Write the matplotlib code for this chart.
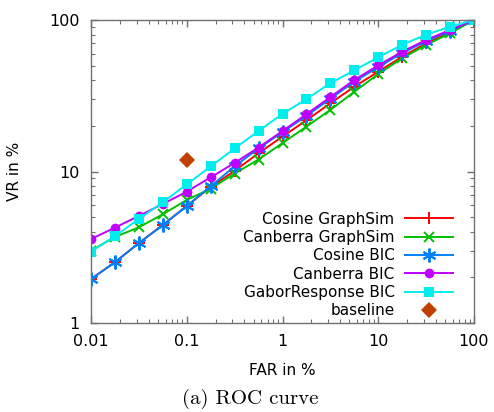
import matplotlib
matplotlib.use("Agg")
import matplotlib.pyplot as plt
from matplotlib.ticker import LogLocator, FixedLocator, FixedFormatter, NullFormatter

far = [0.01, 0.0178, 0.0316, 0.0562, 0.1, 0.178, 0.316, 0.562, 1.0, 1.78, 3.16, 5.62, 10.0, 17.8, 31.6, 56.2, 100.0]

cosine_graphsim = [1.95, 2.52, 3.37, 4.43, 5.92, 7.9, 10.1, 13.2, 17.0, 21.8, 28.2, 36.3, 45.6, 57.3, 70.2, 83.0, 100.0]
canberra_graphsim = [3.0, 3.7, 4.28, 5.22, 6.49, 7.7, 9.7, 12.0, 15.4, 19.8, 25.5, 33.6, 44.0, 55.9, 68.4, 81.7, 100.0]
cosine_bic = [1.95, 2.52, 3.37, 4.43, 5.92, 8.0, 10.8, 14.2, 18.2, 23.3, 30.2, 39.2, 48.8, 60.5, 72.5, 85.0, 100.0]
canberra_bic = [3.58, 4.26, 5.09, 6.1, 7.36, 9.16, 11.4, 14.4, 18.5, 23.9, 31.0, 40.2, 50.2, 61.8, 73.8, 85.9, 100.0]
gabor_bic = [2.96, 3.75, 4.86, 6.26, 8.23, 10.8, 14.2, 18.5, 24.0, 30.1, 38.2, 46.6, 56.7, 68.7, 80.0, 90.3, 100.0]
baseline_far = [0.1]
baseline_vr = [11.9]

labels = ["Cosine GraphSim", "Canberra GraphSim", "Cosine BIC", "Canberra BIC", "GaborResponse BIC", "baseline"]
xticks = [0.01, 0.1, 1, 10, 100]
xticklabels = ["0.01", "0.1", "1", "10", "100"]
yticks = [1, 10, 100]
yticklabels = ["1", "10", "100"]

plt.rcParams['font.family'] = ['DejaVu Sans']
plt.rcParams['font.size'] = 11

fig = plt.figure(figsize=(4.94, 4.12), dpi=100)
ax = fig.add_axes([91/494, 89/412, 383/494, 303/412])

lw = 1.4
ax.plot(far, cosine_graphsim, color='#ff0000', marker='+', ms=9, mew=1.4, lw=lw, label=labels[0])
ax.plot(far, canberra_graphsim, color='#00c000', marker='x', ms=7.5, mew=1.4, lw=lw, label=labels[1])
ax.plot(far, cosine_bic, color='#0080ff', marker=(6, 2, 0), ms=10, mew=1.4, lw=lw, label=labels[2])
ax.plot(far, canberra_bic, color='#c000ff', marker='o', ms=7, mew=0, lw=lw, label=labels[3])
ax.plot(far, gabor_bic, color='#00eeee', marker='s', ms=7.5, mew=0, lw=lw, label=labels[4])
ax.plot(baseline_far, baseline_vr, color='#c04000', marker='D', ms=8.5, mew=0, ls='none', label=labels[5])

ax.set_xscale('log')
ax.set_yscale('log')
ax.set_xlim(0.01, 100)
ax.set_ylim(1, 100)

ax.xaxis.set_major_locator(FixedLocator(xticks))
ax.xaxis.set_major_formatter(FixedFormatter(xticklabels))
ax.yaxis.set_major_locator(FixedLocator(yticks))
ax.yaxis.set_major_formatter(FixedFormatter(yticklabels))
ax.xaxis.set_minor_locator(LogLocator(base=10, subs=range(2, 10)))
ax.yaxis.set_minor_locator(LogLocator(base=10, subs=range(2, 10)))
ax.xaxis.set_minor_formatter(NullFormatter())
ax.yaxis.set_minor_formatter(NullFormatter())

spc = '#707070'
for s in ax.spines.values():
    s.set_color(spc)
    s.set_linewidth(1.0)
ax.tick_params(which='both', direction='in', top=True, right=True, color=spc, labelsize=11.5)
ax.tick_params(which='major', length=5, width=1, pad=8)
ax.tick_params(which='minor', length=3, width=0.8)

ax.set_xlabel("FAR in %", fontsize=11, labelpad=10)
ax.set_ylabel("VR in %", fontsize=11, labelpad=20)

leg = ax.legend(loc='lower right', bbox_to_anchor=(0.972, -0.02), markerfirst=False, frameon=False,
                handlelength=3.1, handletextpad=0.7, labelspacing=0.22, fontsize=11, borderaxespad=0.3)

fig.text(0.506, 0.0316, "(a) ROC curve", ha='center', va='center', fontsize=15, family=['cmr10', 'DejaVu Serif'])

fig.savefig("out.png", dpi=100)
